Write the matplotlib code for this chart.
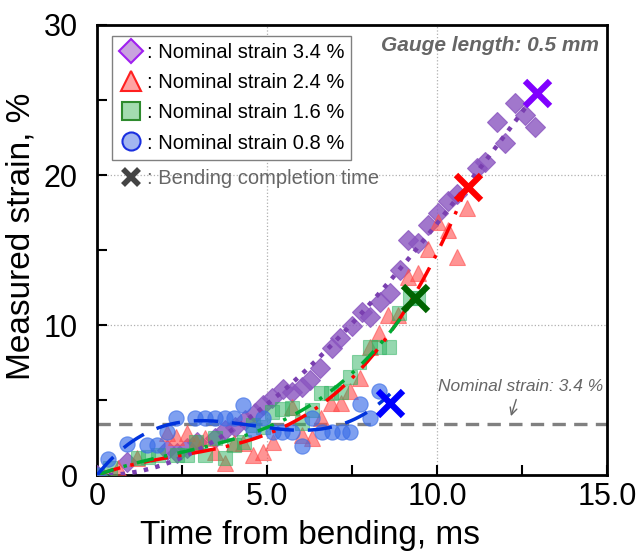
import numpy as np
import matplotlib.pyplot as plt
from matplotlib.lines import Line2D

plt.rcParams['font.family'] = ['Liberation Sans', 'DejaVu Sans']

# Nominal strain 0.8 %
t_08 = [0, 0.32, 0.88, 1.47, 1.76, 2.06, 2.32, 2.88, 3.18, 3.47, 3.76, 4.03, 4.3, 4.59,
        4.88, 5.18, 5.44, 5.74, 6.03, 6.32, 6.62, 6.91, 7.2, 7.44, 7.74, 8.03, 8.29]
s_08 = [0, 1.07, 2.07, 2.0, 2.0, 2.87, 3.8, 3.8, 3.8, 3.8, 3.8, 3.8, 4.67, 3.0,
        3.8, 2.87, 2.87, 2.87, 1.93, 3.8, 2.87, 2.87, 2.87, 2.87, 4.73, 3.8, 5.6]

# Nominal strain 1.6 %
t_16 = [0, 0.38, 1.2, 1.5, 1.79, 2.35, 2.65, 2.91, 3.18, 3.47, 3.76, 4.03, 4.32, 4.59,
        4.88, 5.15, 5.44, 5.74, 6.03, 6.32, 6.59, 6.88, 7.18, 7.44, 7.71, 8.03, 8.29,
        8.59, 8.88, 9.21, 9.44]
s_16 = [0, 0.47, 1.13, 1.2, 1.33, 1.33, 1.33, 2.2, 1.33, 2.47, 1.13, 2.0, 2.2, 3.33,
        3.2, 4.2, 4.4, 4.47, 3.47, 4.33, 5.47, 5.47, 5.53, 6.53, 7.53, 8.53, 8.53,
        8.53, 10.8, 11.8, 11.8]

# Nominal strain 2.4 %
t_24 = [0, 0.62, 1.18, 2.06, 2.32, 2.65, 2.91, 3.18, 3.47, 3.76, 4.03, 4.3, 4.59, 4.88,
        5.18, 5.74, 6.03, 6.32, 6.59, 6.88, 7.18, 7.44, 7.74, 8.03, 8.29, 8.56, 8.85,
        9.15, 9.44, 9.74, 10.03, 10.32, 10.59, 10.88]
s_24 = [0, 0.47, 1.13, 2.8, 2.53, 2.8, 2.2, 2.47, 1.53, 0.8, 2.13, 2.13, 1.33, 1.53,
        2.2, 4.53, 2.67, 2.47, 3.8, 4.8, 4.8, 5.6, 6.5, 8.53, 9.47, 10.67, 10.67,
        13.2, 13.47, 15.1, 16.87, 16.33, 14.53, 17.8]

# Nominal strain 3.4 %
t_34 = [0, 0.88, 2.06, 2.35, 2.65, 2.94, 3.47, 3.76, 4.06, 4.35, 4.65, 4.88, 5.15, 5.47,
        5.74, 6.03, 6.26, 6.56, 6.91, 7.15, 7.5, 7.79, 8.03, 8.32, 8.62, 8.91, 9.15,
        9.44, 9.74, 10.03, 10.32, 10.59, 11.18, 11.41, 11.76, 12.0, 12.29, 12.59, 12.88]
s_34 = [0, 0.87, 1.67, 1.47, 1.8, 2.2, 2.47, 3.0, 3.2, 3.67, 4.13, 4.67, 5.13, 5.73,
        5.53, 5.87, 6.33, 7.13, 8.47, 9.13, 9.93, 10.87, 10.53, 11.53, 12.13, 13.67, 15.67,
        15.47, 16.67, 17.47, 18.27, 18.73, 20.47, 20.87, 23.53, 22.13, 24.8, 24.0, 23.2]

# bending completion (time, strain) for 3.4, 2.4, 1.6, 0.8 %
t_end = [12.94, 10.91, 9.35, 8.62]
s_end = [25.47, 19.2, 11.8, 4.8]

nominal = 3.4


def fit_origin(t, s, tt):
    # cubic through the origin
    t = np.asarray(t, float)
    A = np.vstack([t, t ** 2, t ** 3]).T
    c = np.linalg.lstsq(A, np.asarray(s, float), rcond=None)[0]
    return c[0] * tt + c[1] * tt ** 2 + c[2] * tt ** 3


fig = plt.figure(figsize=(6.43, 5.55), dpi=100)
ax = fig.add_axes([0.151, 0.144, 0.793, 0.811])

series = [
    (t_34, s_34, 'D', '#8a55c0', ':', '#7a3fb0', 0.8, 10, 3.2),
    (t_24, s_24, '^', '#ff4d4d', (0, (7, 3, 1, 3)), '#ff0000', 0.6, 11, 2.5),
    (t_16, s_16, 's', '#2db360', (0, (5, 3, 1, 3)), '#00aa33', 0.5, 10.5, 2.5),
    (t_08, s_08, 'o', '#3a6ee8', (0, (7, 4)), '#0033dd', 0.65, 11, 2.5),
]
end_colors = ['#8000ff', '#ff0000', '#006400', '#0000ff']

for i, (t, s, m, fc, ls, lc, a, ms, lw) in enumerate(series):
    ax.plot(t, s, m, ms=ms, mfc=fc, mec=fc, alpha=a, mew=0.8, zorder=3)
    tt = np.linspace(0, t_end[i], 200)
    ax.plot(tt, fit_origin(t, s, tt), linestyle=ls, color=lc, lw=lw, zorder=4)

for i in range(4):
    ax.plot(t_end[i], s_end[i], 'x', ms=18, mew=4.5, color=end_colors[i], zorder=5)

ax.axhline(nominal, color='#808080', ls=(0, (4, 2.5)), lw=2.4, zorder=2)
ax.annotate('Nominal strain: 3.4 %', xy=(12.15, nominal + 0.35), xytext=(12.45, 5.4),
            ha='center', va='bottom', fontsize=12.5, style='italic', color='#666666',
            arrowprops=dict(arrowstyle='->', color='#666666', lw=1))
ax.text(0.985, 0.975, 'Gauge length: 0.5 mm', transform=ax.transAxes, ha='right', va='top',
        fontsize=15, fontweight='bold', style='italic', color='#666666')

ax.set_xlim(0, 15)
ax.set_ylim(0, 30)
ax.set_xticks([0, 5, 10, 15])
ax.set_xticklabels(['0', '5.0', '10.0', '15.0'])
ax.set_xticks([2.5, 7.5, 12.5], minor=True)
ax.set_yticks([0, 10, 20, 30])
ax.set_yticks([5, 15, 25], minor=True)
ax.tick_params(which='both', direction='in', length=7, width=1.5, labelsize=22)
ax.tick_params(axis='x', pad=5)
ax.tick_params(axis='y', pad=14)
ax.tick_params(top=False, right=False)
ax.grid(True, which='major', color='#b0b0b0', ls=':', lw=0.9)
for sp in ax.spines.values():
    sp.set_linewidth(2)
ax.set_xlabel('Time from bending, ms', fontsize=24, labelpad=0)
ax.set_ylabel('Measured strain, %', fontsize=24, labelpad=2)
ax.xaxis.set_label_coords(0.418, -0.1)
ax.yaxis.set_label_coords(-0.118, 0.53)

handles = [
    Line2D([], [], ls='', marker='D', ms=12, mfc='#c9a3de', mec='#a020f0', mew=1.5),
    Line2D([], [], ls='', marker='^', ms=14, mfc='#ffa3a3', mec='#ff2020', mew=1.5),
    Line2D([], [], ls='', marker='s', ms=13, mfc='#a3dcb0', mec='#2e8b2e', mew=1.5),
    Line2D([], [], ls='', marker='o', ms=13, mfc='#a3b6f0', mec='#1a2fe0', mew=1.5),
]
labels = [': Nominal strain 3.4 %', ': Nominal strain 2.4 %',
          ': Nominal strain 1.6 %', ': Nominal strain 0.8 %']
leg = ax.legend(handles, labels, loc='upper left', bbox_to_anchor=(0.03, 0.975),
                fontsize=14.5, handlelength=1.1, handletextpad=0.25, labelspacing=0.55,
                borderpad=0.35, fancybox=False, edgecolor='#808080', framealpha=1,
                borderaxespad=0)
leg.get_frame().set_linewidth(1)
ax.add_artist(leg)
h2 = [Line2D([], [], ls='', marker='x', ms=11, mew=4, color='#444444')]
leg2 = ax.legend(h2, [': Bending completion time'], loc='upper left',
                 bbox_to_anchor=(0.03, 0.695), fontsize=14.5, handlelength=1.1,
                 handletextpad=0.25, frameon=False, borderaxespad=0, borderpad=0.35)
for txt in leg2.get_texts():
    txt.set_color('#666666')

fig.savefig('out.png', dpi=100)
